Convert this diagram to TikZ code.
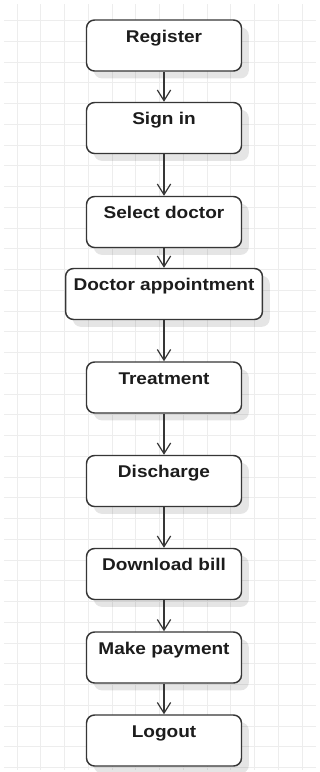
\documentclass[tikz,border=0pt]{standalone}
\usepackage{fontspec}
\setmainfont[FakeStretch=1.12]{Liberation Sans}
\usepackage{xcolor}
\usepackage{tikz}
\usetikzlibrary{arrows.meta, shadows}
\definecolor{flowgrid}{HTML}{EDEDED}
\definecolor{flowline}{HTML}{363636}
\definecolor{flowtext}{HTML}{1C1C1C}

\begin{document}
\begin{tikzpicture}[x=0.75pt, y=-0.75pt,
  stepbox/.style={draw=flowline, line width=1.1pt, fill=white, rounded corners=6pt,
    minimum width=116.25pt, inner xsep=6pt, inner ysep=0pt,
    text height=16.5pt, text depth=21.75pt, text=flowtext,
    font=\fontsize{12.75}{15}\selectfont\bfseries,
    drop shadow={shadow xshift=5.5pt, shadow yshift=-5.5pt, fill=black, opacity=0.1}},
  flowarrow/.style={draw=flowline, line width=0.9pt, -{Straight Barb[length=8pt, width=10pt]}}]
  \useasboundingbox (0,0) rectangle (320,772);
  \fill[white] (0,0) rectangle (320,772);
  % grid
  \foreach \gx in {0,...,12} {
    \draw[flowgrid, line width=0.6pt] (17+23.75*\gx,4) -- (17+23.75*\gx,770);
  }
  \foreach \gy in {0,...,36} {
    \draw[flowgrid, line width=0.6pt] (4,20.5+20.75*\gy) -- (316,20.5+20.75*\gy);
  }
  % activities
  \node[stepbox] (reg) at (164,45.5) {Register};
  \node[stepbox] (signin) at (164,128) {Sign in};
  \node[stepbox] (seldoc) at (164,222) {Select doctor};
  \node[stepbox] (appoint) at (164,294) {Doctor appointment};
  \node[stepbox] (treat) at (164,387.5) {Treatment};
  \node[stepbox] (disch) at (164,481) {Discharge};
  \node[stepbox] (bill) at (164,574) {Download bill};
  \node[stepbox] (pay) at (164,657.5) {Make payment};
  \node[stepbox] (logout) at (164,740.5) {Logout};
  % flow
  \foreach \a/\b in {reg/signin, signin/seldoc, seldoc/appoint, appoint/treat, treat/disch, disch/bill, bill/pay, pay/logout} {
    \draw[flowarrow] (\a) -- (\b);
  }
\end{tikzpicture}
\end{document}
